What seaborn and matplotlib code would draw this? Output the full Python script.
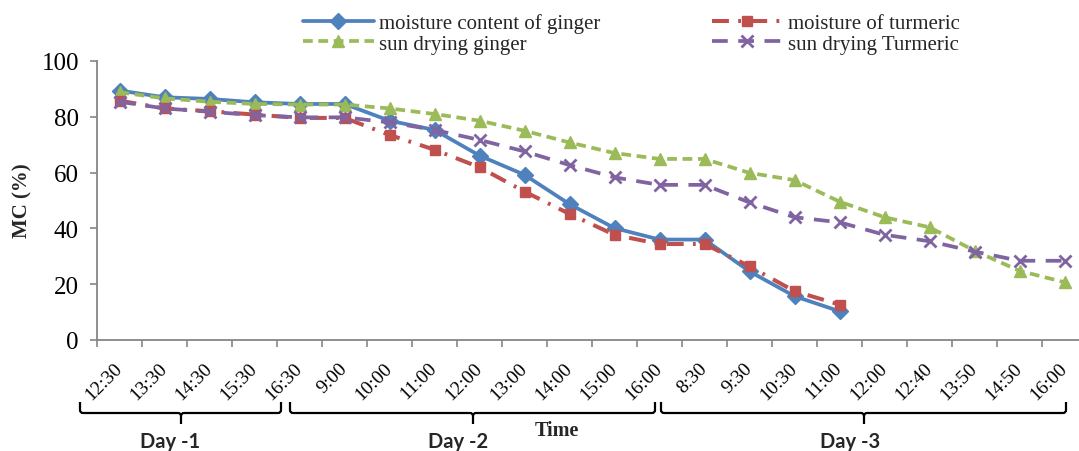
import numpy as np
import pandas as pd
import matplotlib
matplotlib.use("Agg")
import matplotlib.pyplot as plt
from matplotlib.path import Path
from matplotlib.patches import PathPatch
import seaborn as sns

# ---------------- data ----------------
time_labels = ["12:30", "13:30", "14:30", "15:30", "16:30",
               "9:00", "10:00", "11:00", "12:00", "13:00", "14:00", "15:00", "16:00",
               "8:30", "9:30", "10:30", "11:00", "12:00", "12:40", "13:50", "14:50", "16:00"]

mc_ginger = [89.4, 87.0, 86.4, 85.2, 84.6, 84.6, 78.6, 75.3, 66.1, 59.2, 48.7,
             40.1, 36.0, 36.0, 24.6, 15.7, 10.3]
mc_turmeric = [85.8, 83.0, 82.0, 80.8, 79.6, 79.6, 73.5, 68.2, 61.9, 53.2, 45.2,
               37.7, 34.4, 34.4, 26.4, 17.5, 12.7]
sun_ginger = [88.8, 86.6, 85.4, 84.6, 84.4, 84.4, 83.0, 81.0, 78.6, 75.0, 70.8,
              67.0, 64.9, 64.9, 59.9, 57.3, 49.6, 44.0, 40.4, 32.0, 24.8, 20.7]
sun_turmeric = [85.4, 83.0, 81.8, 80.6, 79.8, 79.8, 78.0, 75.3, 71.7, 67.6, 62.7,
                58.3, 55.6, 55.6, 49.3, 44.0, 42.2, 37.7, 35.4, 31.7, 28.4, 28.4]

series_names = ["moisture content of ginger", "sun drying ginger",
                "moisture of turmeric", "sun drying Turmeric"]
day_labels = ["Day -1", "Day -2", "Day -3"]
x_title = "Time"
y_title = "MC (%)"

# ---------------- style ----------------
sns.set_theme(style="white")
plt.rcParams["font.family"] = ["Liberation Serif", "DejaVu Serif"]

W, H = 1079, 452
fig = plt.figure(figsize=(W / 100, H / 100), dpi=100)
fig.patch.set_facecolor("white")


def fx(px):
    return px / W


def fy(py):
    return 1 - py / H


ax_left, ax_right, ax_top, ax_bot = 97, 1087, 62, 341
ax = fig.add_axes([fx(ax_left), fy(ax_bot), fx(ax_right - ax_left), (ax_bot - ax_top) / H])
ax.set_facecolor("white")

blue = "#4F81BD"
red = "#C0504D"
green = "#9BBB59"
purple = "#8064A2"

specs = [
    (mc_ginger, dict(color=blue, marker="D", markersize=8.5, linestyle="-", linewidth=2.7,
                     markeredgecolor=blue, markerfacecolor=blue, markeredgewidth=1)),
    (sun_ginger, dict(color=green, marker="^", markersize=9, linestyle=(0, (2.6, 1.5)), linewidth=2.7,
                      markeredgecolor=green, markerfacecolor=green, markeredgewidth=1)),
    (mc_turmeric, dict(color=red, marker="s", markersize=7.5, linestyle=(0, (4.2, 2.3, 0.7, 2.3)), linewidth=2.9,
                       markeredgecolor=red, markerfacecolor=red, markeredgewidth=1)),
    (sun_turmeric, dict(color=purple, marker="x", markersize=8.5, linestyle=(0, (4.2, 2.8)), linewidth=2.7,
                        markeredgecolor=purple, markerfacecolor=purple, markeredgewidth=2.0)),
]

handles = []
for (vals, kw), name in zip(specs, series_names):
    df = pd.DataFrame({"x": np.arange(len(vals)), "y": vals})
    sns.lineplot(data=df, x="x", y="y", ax=ax, label=name, legend=False, **kw)
    handles.append(ax.lines[-1])

n = len(time_labels)
ax.set_xlim(-0.5, n - 0.5)
ax.set_ylim(0, 100)
ax.set_yticks(np.arange(0, 101, 20))
ax.set_xlabel("")
ax.set_ylabel("")

# category labels at centres, tick marks at boundaries
ax.set_xticks(np.arange(n))
ax.set_xticklabels(time_labels, rotation=45, ha="right", va="center",
                   rotation_mode="anchor", fontsize=14)
ax.set_xticks(np.arange(-0.5, n, 1), minor=True)
ax.tick_params(axis="x", which="major", length=0, pad=18, colors="black")
ax.tick_params(axis="x", which="minor", length=5, width=1.2, color="#868686", direction="out")
ax.tick_params(axis="y", which="major", length=5, width=1.2, color="#868686", direction="out",
               labelsize=18, pad=8, labelcolor="black")
ax.tick_params(axis="y", left=True)
ax.tick_params(axis="x", which="minor", bottom=True)

for s in ["top", "right"]:
    ax.spines[s].set_visible(False)
for s in ["left", "bottom"]:
    ax.spines[s].set_color("#868686")
    ax.spines[s].set_linewidth(1.3)
ax.grid(False)

# legend
fig.legend(handles, series_names, ncol=2, loc="upper left",
           bbox_to_anchor=(fx(303), fy(14)), frameon=False, fontsize=15,
           handlelength=3.4, handletextpad=0.25, columnspacing=5.35,
           labelspacing=0.05, borderaxespad=0, borderpad=0)

# axis titles
fig.text(fx(22), fy(201), y_title, rotation=90, ha="center", va="center",
         fontsize=15, fontweight="bold")
fig.text(fx(557), fy(431), x_title, ha="center", va="center",
         fontsize=14.5, fontweight="bold")


# braces
def brace(x0, x1, xm, yt=403, yh=414, ytip=425, r=3):
    verts = [(x0, yt), (x0, yh - r), (x0, yh), (x0 + r, yh), (xm - r, yh), (xm, yh), (xm, yh + r),
             (xm, ytip),
             (xm, yh + r), (xm, yh), (xm + r, yh), (x1 - r, yh), (x1, yh), (x1, yh - r), (x1, yt)]
    codes = [Path.MOVETO, Path.LINETO, Path.CURVE3, Path.CURVE3, Path.LINETO, Path.CURVE3, Path.CURVE3,
             Path.LINETO,
             Path.MOVETO, Path.CURVE3, Path.CURVE3, Path.LINETO, Path.CURVE3, Path.CURVE3, Path.LINETO]
    verts = [(fx(a), fy(b)) for a, b in verts]
    patch = PathPatch(Path(verts, codes), transform=fig.transFigure, fill=False,
                      edgecolor="black", linewidth=1.6, capstyle="butt")
    fig.add_artist(patch)


brace(80, 281, 181)
brace(290, 655, 473)
brace(661, 1066, 864)

for label, cx in zip(day_labels, [170, 458, 850]):
    fig.text(fx(cx), fy(442), label, ha="center", va="center", fontsize=14.5,
             fontweight="bold", family=["Lato", "DejaVu Sans"])

fig.savefig("out.png", dpi=100, facecolor="white")
